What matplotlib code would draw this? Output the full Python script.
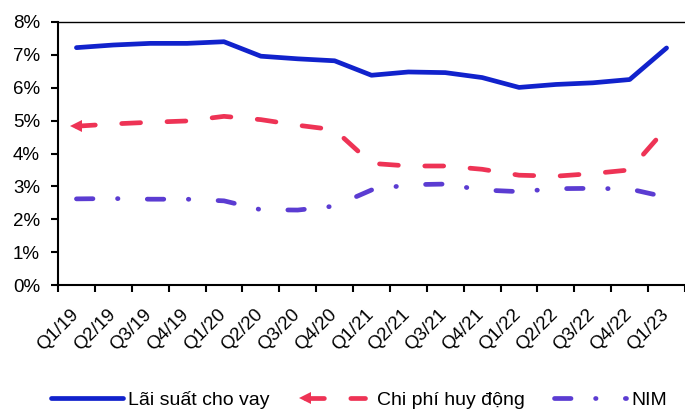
import matplotlib
matplotlib.use("Agg")
import matplotlib.pyplot as plt
from matplotlib.ticker import FixedLocator, FuncFormatter
from matplotlib.legend_handler import HandlerLine2D

plt.rcParams['font.family'] = ['Liberation Sans', 'DejaVu Sans']

quarters = ['Q1/19', 'Q2/19', 'Q3/19', 'Q4/19', 'Q1/20', 'Q2/20', 'Q3/20', 'Q4/20',
            'Q1/21', 'Q2/21', 'Q3/21', 'Q4/21', 'Q1/22', 'Q2/22', 'Q3/22', 'Q4/22', 'Q1/23']

# percent
lai_suat = [7.22, 7.30, 7.35, 7.35, 7.40, 6.96, 6.88, 6.82, 6.38, 6.48, 6.46, 6.31,
            6.01, 6.10, 6.15, 6.25, 7.21]
chi_phi = [4.83, 4.90, 4.95, 4.99, 5.13, 5.03, 4.86, 4.72, 3.70, 3.62, 3.62, 3.52,
           3.34, 3.31, 3.39, 3.50, 4.78]
nim = [2.62, 2.63, 2.61, 2.61, 2.56, 2.29, 2.28, 2.40, 2.89, 3.05, 3.07, 2.89,
       2.84, 2.93, 2.94, 2.92, 2.67]

x = list(range(len(quarters)))


class ArrowFirst(HandlerLine2D):
    # only the first legend point gets the arrow head
    def create_artists(self, *args, **kwargs):
        arts = super().create_artists(*args, **kwargs)
        for a in arts:
            a.set_markevery([0])
        return arts


fig = plt.figure(figsize=(6.85, 4.12), dpi=100)
ax = fig.add_axes([58 / 685, 1 - 285 / 412, 1 - 58 / 685, (285 - 22) / 412])

ax.plot(x, lai_suat, color='#1122CC', lw=3.4, solid_capstyle='round',
        label='Lãi suất cho vay')
red, = ax.plot(x, chi_phi, color='#EE3355', lw=3.4, dash_capstyle='round',
               linestyle=(0, (4.0, 5.6)), marker='<', markevery=[0], markersize=9,
               markeredgewidth=0, label='Chi phí huy động')
ax.plot(x, nim, color='#5B3CD2', lw=3.4, dash_capstyle='round',
        linestyle=(0, (3.5, 5.2, 0.1, 6.2)), label='NIM')

ax.set_xlim(-0.5, len(quarters) - 0.5)
ax.set_ylim(0, 8)
ax.set_yticks(range(0, 9))
ax.yaxis.set_major_formatter(FuncFormatter(lambda v, p: '%d%%' % v))

# labels a bit left of the category centre, like the source
ax.set_xticks([i - 0.18 for i in x])
ax.set_xticklabels(quarters, rotation=45, ha='right', va='top', rotation_mode='anchor')
ax.xaxis.set_minor_locator(FixedLocator([i - 0.5 for i in range(len(quarters) + 1)]))
ax.tick_params(axis='x', which='major', length=0, pad=15, labelsize=13.5)
ax.tick_params(axis='x', which='minor', length=5, width=1.5, direction='out')
ax.tick_params(axis='y', length=5, width=1.5, direction='out', pad=8, labelsize=13.5)

for s in ['left', 'bottom']:
    ax.spines[s].set_linewidth(1.5)
ax.spines['top'].set_linewidth(1.0)
ax.spines['right'].set_visible(False)

ax.legend(loc='center', bbox_to_anchor=(359 / 685, 1 - 400 / 412),
          bbox_transform=fig.transFigure, ncol=3, frameon=False,
          fontsize=14, handlelength=3.7, columnspacing=1.5, handletextpad=0.3,
          handler_map={red: ArrowFirst(numpoints=2)})

fig.savefig('out.png', dpi=100)
